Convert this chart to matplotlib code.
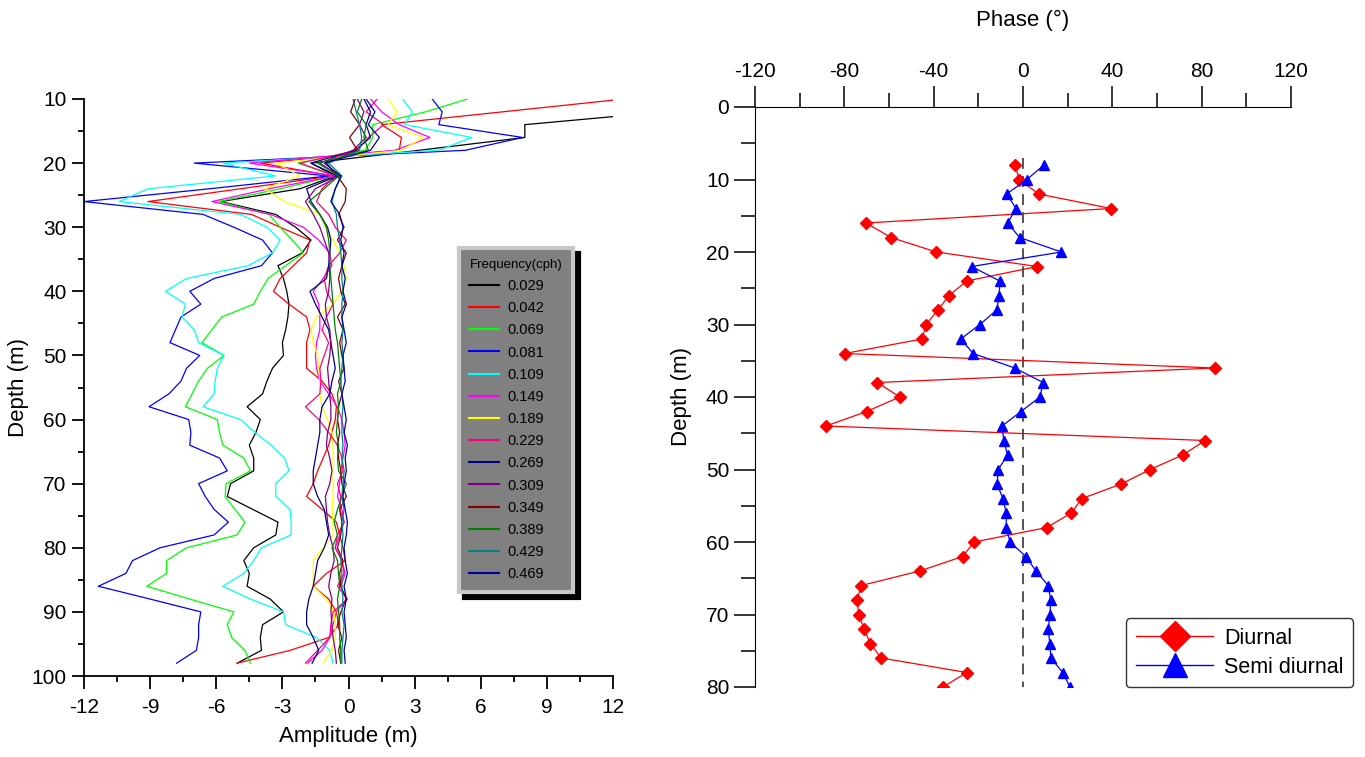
import matplotlib
matplotlib.use('Agg')
from matplotlib import pyplot as plt
from matplotlib.lines import Line2D
from matplotlib.ticker import MultipleLocator
import numpy as np

plt.rcParams['font.family'] = ['Liberation Sans', 'DejaVu Sans']
plt.rcParams['axes.unicode_minus'] = False

# ---- left panel: amplitude profiles, one per frequency ----
amp_depth = np.arange(10, 100, 2)

freq_labels = ['0.029', '0.042', '0.069', '0.081', '0.109', '0.149', '0.189',
               '0.229', '0.269', '0.309', '0.349', '0.389', '0.429', '0.469']
freq_colors = ['#000000', '#FF0000', '#00FF00', '#0000FF', '#00FFFF', '#FF00FF', '#FFFF00',
               '#FF0080', '#000080', '#800080', '#800000', '#008000', '#008080', '#0000A0']

amp_029 = [16.0, 14.4, 8.0, 8.0, 3.2, -1.7, -0.6, -2.2, -5.8, -3.3, -2.4, -1.7, -2.1, -3.2, -2.95,
           -2.8, -2.7, -2.75, -2.85, -3.0, -2.95, -3.45, -3.7, -3.9, -4.6, -4.0, -4.2, -4.5, -4.3,
           -4.3, -5.35, -5.5, -4.35, -3.2, -3.3, -4.3, -4.75, -4.5, -4.6, -3.55, -2.95, -3.9, -4.0,
           -3.95, -5.05]
amp_042 = [12.5, 7.0, 1.5, 2.4, 2.3, -4.0, -0.7, -4.9, -9.1, -4.4, -3.1, -1.75, -1.9, -2.5, -3.1,
           -3.4, -2.7, -1.9, -1.75, -1.9, -1.9, -1.9, -1.2, -0.75, -0.55, -0.6, -0.75, -0.9, -1.15,
           -1.4, -1.6, -1.9, -1.2, -0.55, -0.4, -0.25, -0.15, -1.0, -1.6, -0.9, -0.55, -0.45, -0.9,
           -2.65, -5.05]
amp_069 = [5.4, 3.5, 1.1, 1.1, 0.75, -2.3, -0.6, -3.1, -5.9, -3.6, -3.1, -2.55, -2.05, -2.85, -3.65,
           -4.0, -4.3, -5.75, -6.2, -6.65, -5.65, -6.4, -6.8, -7.1, -7.4, -5.95, -5.85, -5.7, -4.75,
           -4.45, -5.55, -5.6, -5.15, -4.7, -5.05, -7.35, -8.25, -8.25, -9.15, -7.2, -5.2, -5.5, -5.3,
           -4.7, -4.45]
amp_081 = [3.8, 4.25, 4.1, 7.9, 5.3, -7.0, -0.9, -6.3, -12.0, -6.6, -5.2, -3.9, -3.45, -3.95, -6.1,
           -7.2, -6.7, -7.6, -7.85, -8.1, -6.75, -7.35, -7.6, -8.15, -9.05, -7.25, -7.15, -7.2, -5.85,
           -5.5, -6.8, -6.5, -6.1, -5.45, -6.1, -8.55, -9.8, -10.1, -11.35, -9.0, -6.7, -6.8, -6.8,
           -6.9, -7.8]
amp_109 = [2.45, 2.9, 2.55, 5.6, 4.1, -5.7, -3.3, -9.1, -10.4, -4.9, -3.7, -3.1, -3.45, -4.55, -7.35,
           -8.3, -7.4, -7.55, -7.0, -6.8, -5.65, -5.95, -6.05, -6.1, -6.6, -4.9, -4.25, -3.5, -2.9,
           -2.7, -3.3, -3.3, -2.65, -2.6, -2.6, -3.95, -4.3, -4.75, -5.7, -4.45, -2.95, -2.85, -1.45,
           -0.85, -0.7]
amp_149 = [1.0, 1.5, 2.3, 3.7, 2.1, -4.5, -0.6, -3.6, -6.2, -3.55, -2.05, -1.35, -0.85, -0.75, -1.15,
           -1.6, -1.35, -1.3, -1.3, -1.45, -1.5, -1.45, -1.3, -0.9, -0.5, -0.3, -0.2, -0.15, -0.25,
           -0.35, -0.4, -0.5, -0.3, -0.2, -0.4, -0.6, -0.3, -0.15, -0.35, -0.1, -0.55, -0.7, -0.85,
           -1.2, -1.85]
amp_189 = [1.8, 2.2, 1.8, 3.4, 2.4, -3.3, -2.2, -3.8, -2.9, -1.3, -1.05, -0.7, -0.4, -0.2, -0.1,
           -0.3, -0.7, -1.45, -1.7, -1.6, -1.4, -1.35, -1.3, -1.3, -1.2, -0.95, -0.75, -0.7, -0.7,
           -0.7, -0.7, -0.7, -0.75, -0.7, -0.7, -1.15, -1.6, -1.6, -1.6, -1.0, -0.65, -0.6, -0.6,
           -0.75, -1.15]
amp_229 = [1.3, 0.8, 1.6, 0.9, 0.4, -2.2, -0.6, -1.2, -1.45, -0.9, -0.6, -0.1, -0.4, -0.9, -1.1,
           -1.0, -0.7, -1.0, -1.2, -0.9, -1.1, -1.3, -1.25, -1.3, -1.95, -1.35, -0.9, -0.5, -0.3,
           -0.25, -0.5, -0.35, -0.4, -0.2, -0.5, -0.6, -0.3, -0.2, -0.5, -0.05, -0.7, -0.8, -0.85,
           -1.4, -1.95]
amp_269 = [0.7, 1.0, 0.8, 1.0, 0.3, -1.7, -0.5, -1.9, -1.7, -1.3, -0.95, -0.8, -0.85, -0.9, -1.0,
           -1.75, -1.5, -1.2, -0.9, -0.8, -0.7, -0.6, -0.75, -0.85, -1.2, -1.3, -1.3, -1.4, -1.5,
           -1.6, -1.6, -1.4, -1.1, -1.0, -0.9, -1.1, -1.4, -1.5, -1.6, -1.8, -1.9, -1.9, -1.6,
           -1.35, -1.65]
amp_309 = [0.4, 0.7, 0.5, 0.8, 0.2, -1.3, -0.4, -1.5, -1.95, -1.6, -1.3, -1.1, -0.9, -0.85, -0.85,
           -0.9, -1.05, -1.0, -0.85, -0.8, -0.85, -0.95, -0.9, -0.85, -0.8, -0.8, -0.95, -1.0, -0.85,
           -0.75, -0.85, -1.05, -1.0, -0.95, -0.85, -0.7, -0.65, -0.8, -0.9, -0.75, -0.8, -0.75, -0.7,
           -0.6, -0.55]
amp_349 = [0.3, 0.1, 0.5, 0.05, 0.4, -1.0, -0.5, -0.1, -0.15, -0.45, -0.2, -0.5, -0.1, -0.3, -0.45,
           -0.35, -0.15, -0.5, -0.25, -0.4, -0.3, -0.2, -0.45, -0.3, -0.45, -0.5, -0.4, -0.5, -0.45,
           -0.35, -0.3, -0.1, -0.4, -0.3, -0.35, -0.5, -0.25, -0.4, -0.35, -0.1, -0.35, -0.5, -0.3,
           -0.45, -0.35]
amp_389 = [0.6, 0.4, 0.8, 0.7, 0.9, -1.4, -0.45, -1.1, -1.8, -1.3, -1.0, -0.9, -0.85, -0.85, -0.8,
           -0.75, -0.7, -0.65, -0.6, -0.5, -0.45, -0.4, -0.35, -0.5, -0.45, -0.5, -0.55, -0.45, -0.5,
           -0.45, -0.1, -0.3, -0.5, -0.65, -0.5, -0.75, -0.5, -0.45, -0.4, -0.5, -0.45, -0.4, -0.4,
           -0.35, -0.35]
amp_429 = [0.2, 0.35, 0.5, 0.6, 0.5, -0.9, -0.3, -0.6, -0.75, -0.55, -0.5, -0.4, -0.35, -0.3, -0.3,
           -0.25, -0.3, -0.3, -0.25, -0.3, -0.25, -0.3, -0.35, -0.3, -0.25, -0.3, -0.3, -0.25, -0.3,
           -0.2, -0.25, -0.3, -0.2, -0.3, -0.25, -0.3, -0.35, -0.3, -0.3, -0.25, -0.3, -0.2, -0.25,
           -0.3, -0.3]
amp_469 = [0.8, 1.2, 0.9, 1.4, 1.0, -1.1, -0.35, -0.6, -0.8, -0.4, -0.25, -0.35, -0.2, -0.3, -0.15,
           -0.25, -0.1, -0.3, -0.2, -0.1, -0.25, -0.2, -0.15, -0.3, -0.2, -0.1, -0.2, -0.05, -0.15,
           -0.1, -0.2, -0.25, -0.15, -0.05, -0.1, -0.2, -0.15, -0.05, -0.2, -0.1, -0.2, -0.15, -0.1,
           -0.2, -0.15]

amp_series = [amp_029, amp_042, amp_069, amp_081, amp_109, amp_149, amp_189,
              amp_229, amp_269, amp_309, amp_349, amp_389, amp_429, amp_469]

# ---- right panel: phase profiles ----
phase_depth = np.arange(8, 82, 2)
diurnal = [-3.6, -1.7, 7.0, 39.5, -70.3, -59.1, -38.8, 6.4, -25.2, -33.1, -38.1, -43.4, -45.2,
           -79.8, 86.0, -65.2, -55.2, -70.0, -88.2, 81.6, 71.5, 56.9, 44.0, 26.4, 21.6, 10.7,
           -21.9, -27.0, -46.3, -72.4, -74.3, -73.6, -71.1, -68.4, -63.5, -25.2, -35.8]
semidiurnal = [9.4, 1.7, -7.3, -3.1, -6.9, -1.5, 17.2, -23.0, -10.4, -10.6, -11.8, -19.3, -27.9,
               -22.3, -3.7, 9.0, 7.6, -0.9, -9.4, -8.6, -6.9, -11.1, -11.6, -9.0, -7.5, -7.5,
               -5.8, 1.3, 5.8, 11.3, 12.4, 12.1, 11.3, 12.0, 12.5, 17.8, 21.0]

W, H = 1365, 757
fig = plt.figure(figsize=(W / 100, H / 100), dpi=100)

# left axes
ax1 = fig.add_axes([84 / W, 1 - 676 / H, 529 / W, 577 / H])
for vals, col in zip(amp_series, freq_colors):
    ax1.plot(vals, amp_depth, color=col, lw=0.9)
ax1.set_xlim(-12, 12)
ax1.set_ylim(100, 10)
ax1.xaxis.set_major_locator(MultipleLocator(3))
ax1.xaxis.set_minor_locator(MultipleLocator(1.5))
ax1.yaxis.set_major_locator(MultipleLocator(10))
ax1.yaxis.set_minor_locator(MultipleLocator(5))
ax1.spines['top'].set_visible(False)
ax1.spines['right'].set_visible(False)
for s in ['left', 'bottom']:
    ax1.spines[s].set_linewidth(1.3)
ax1.tick_params(which='major', direction='out', length=9, width=1.3, labelsize=15)
ax1.tick_params(axis='x', which='major', pad=7)
ax1.tick_params(which='minor', direction='out', length=4, width=1.3)
ax1.set_xlabel('Amplitude (m)', fontsize=16, labelpad=6)
ax1.set_ylabel('Depth (m)', fontsize=16, labelpad=2)

handles = [Line2D([], [], color=c, lw=1.5) for c in freq_colors]
leg1 = ax1.legend(handles, freq_labels, title='Frequency(cph)', loc='upper left',
                  bbox_to_anchor=(0.697, 0.752), fontsize=10.5, title_fontsize=9.5,
                  labelspacing=0.56, handlelength=2.0, handletextpad=0.6,
                  borderpad=0.75, borderaxespad=0.4, fancybox=False, framealpha=1,
                  facecolor='#808080', edgecolor='#C8C8C8',
                  shadow={'color': 'black', 'alpha': 1, 'ox': 4, 'oy': -4})
leg1.get_frame().set_linewidth(3)
leg1._legend_box.align = 'left'

# right axes
ax2 = fig.add_axes([755 / W, 1 - 687 / H, 536 / W, 580 / H])
ax2.plot([0, 0], [7, 80], color='#444444', lw=1.3, dashes=(6, 4))
ax2.plot(diurnal, phase_depth, color='#FF0000', lw=0.9, marker='D', ms=6, mec='#FF0000')
ax2.plot(semidiurnal, phase_depth, color='#0000FF', lw=0.9, marker='^', ms=7, mec='#0000FF')
ax2.set_xlim(-120, 120)
ax2.set_ylim(80, 0)
ax2.xaxis.tick_top()
ax2.xaxis.set_label_position('top')
ax2.xaxis.set_major_locator(MultipleLocator(40))
ax2.xaxis.set_minor_locator(MultipleLocator(20))
ax2.yaxis.set_major_locator(MultipleLocator(10))
ax2.yaxis.set_minor_locator(MultipleLocator(5))
ax2.spines['bottom'].set_visible(False)
ax2.spines['right'].set_visible(False)
ax2.tick_params(which='major', direction='out', length=15, width=1.1, labelsize=15)
ax2.tick_params(which='minor', direction='out', length=10, width=1.1)
ax2.set_xlabel('Phase (°)', fontsize=16, labelpad=26)
ax2.set_ylabel('Depth (m)', fontsize=16, labelpad=10)

h2 = [Line2D([], [], color='#FF0000', lw=1, marker='D', ms=15),
      Line2D([], [], color='#0000FF', lw=1, marker='^', ms=17)]
leg2 = fig.legend(h2, ['Diurnal', 'Semi diurnal'], loc='lower right',
                  bbox_to_anchor=(1364 / W, 1 - 698 / H), fontsize=15.5,
                  handlelength=3.6, handletextpad=0.5, labelspacing=0.35,
                  borderpad=0.45, fancybox=True, framealpha=1, edgecolor='#333333')

fig.savefig('out.png', dpi=100)
